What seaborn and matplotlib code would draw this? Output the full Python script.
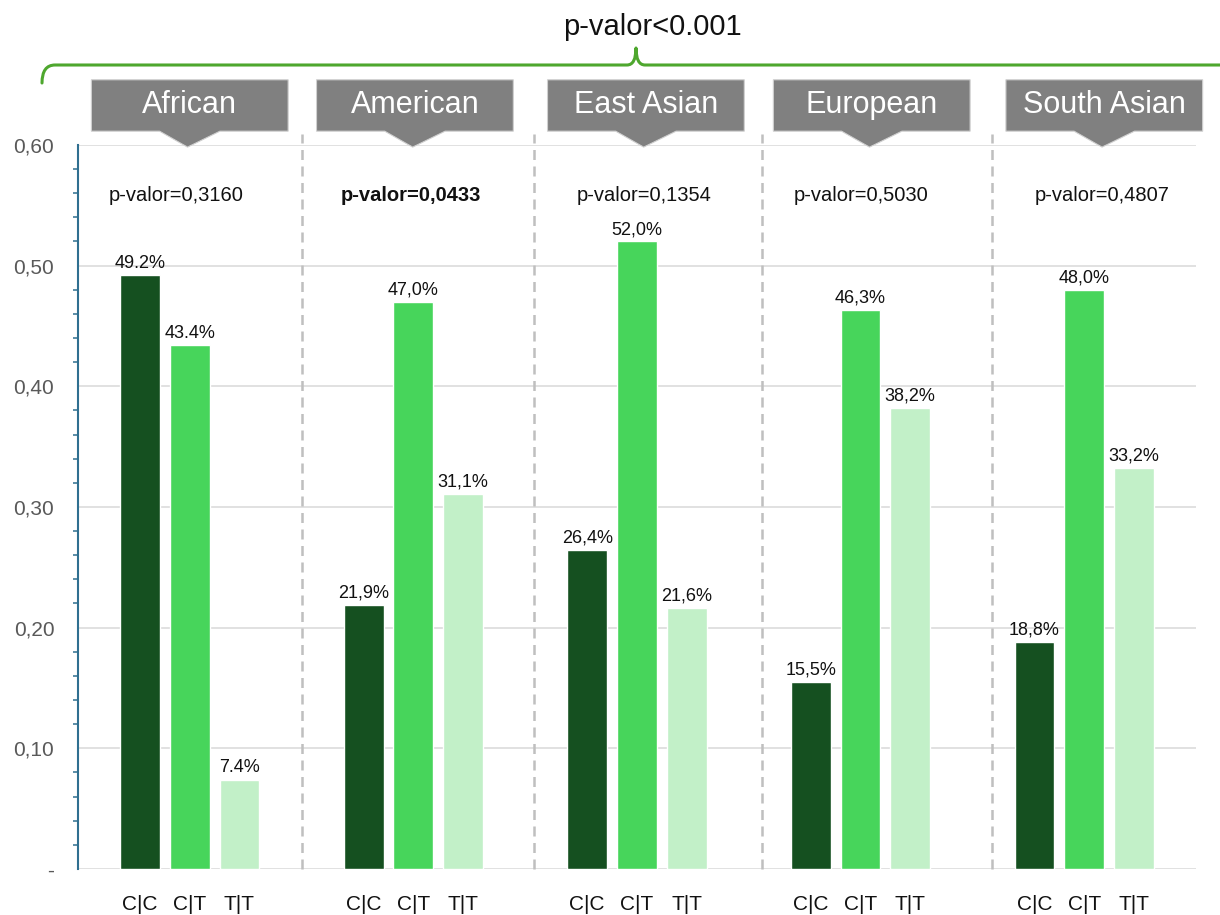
import numpy as np
import pandas as pd
import matplotlib
matplotlib.use("Agg")
import matplotlib.pyplot as plt
import matplotlib.transforms as mtransforms
from matplotlib.patches import Polygon, PathPatch
from matplotlib.path import Path
import seaborn as sns

# -----------------------------
# data
# -----------------------------
populations = ["African", "American", "East Asian", "European", "South Asian"]
genotypes = ["C|C", "C|T", "T|T"]
freq_cc = [0.492, 0.219, 0.264, 0.155, 0.188]
freq_ct = [0.434, 0.470, 0.520, 0.463, 0.480]
freq_tt = [0.074, 0.311, 0.216, 0.382, 0.332]
labels_cc = ["49.2%", "21,9%", "26,4%", "15,5%", "18,8%"]
labels_ct = ["43.4%", "47,0%", "52,0%", "46,3%", "48,0%"]
labels_tt = ["7.4%", "31,1%", "21,6%", "38,2%", "33,2%"]
p_values = ["p-valor=0,3160", "p-valor=0,0433", "p-valor=0,1354",
            "p-valor=0,5030", "p-valor=0,4807"]
p_bold = [False, True, False, False, False]
overall_p = "p-valor<0.001"
y_ticks = [0.0, 0.1, 0.2, 0.3, 0.4, 0.5, 0.6]
y_ticklabels = ["-", "0,10", "0,20", "0,30", "0,40", "0,50", "0,60"]

colors = {"C|C": "#155020", "C|T": "#47D55B", "T|T": "#C2F0C8"}

df = pd.DataFrame({
    "population": populations * 3,
    "genotype": [g for g in genotypes for _ in populations],
    "freq": freq_cc + freq_ct + freq_tt,
})

# -----------------------------
# plot
# -----------------------------
sns.set_style("white")
plt.rcParams["font.family"] = ["Liberation Sans", "DejaVu Sans"]

fig = plt.figure(figsize=(12.2, 9.15), dpi=100)
ax = fig.add_axes([0.0639, 0.0503, 0.9164, 0.7913])

sns.barplot(data=df, x="population", y="freq", hue="genotype",
            order=populations, hue_order=genotypes, palette=colors,
            width=0.667, gap=0.2, saturation=1, errorbar=None,
            legend=False, ax=ax)

for cont, labs in zip(ax.containers, [labels_cc, labels_ct, labels_tt]):
    ax.bar_label(cont, labels=labs, padding=2.5, fontsize=13, color="#111111")

ax.set_xlim(-0.5, 4.5)
ax.set_ylim(0, 0.6)
ax.set_xlabel("")
ax.set_ylabel("")

# genotype labels under each bar
centers = sorted(p.get_x() + p.get_width() / 2 for p in ax.patches)
ax.set_xticks(centers, labels=genotypes * len(populations))
ax.tick_params(axis="x", length=0, pad=19, labelsize=15, labelcolor="#111111")

# y axis
axis_col = "#2F6F90"
ax.set_yticks(y_ticks, labels=y_ticklabels)
ax.set_yticks(np.arange(0, 0.6, 0.02), minor=True)
ax.tick_params(axis="y", which="major", direction="inout", length=10,
               width=1.3, color=axis_col, pad=12, labelsize=15,
               labelcolor="#595959")
ax.tick_params(axis="y", which="minor", direction="out", length=3.6,
               width=1.1, color=axis_col, left=True)
ax.yaxis.grid(True, color="#D9D9D9", lw=1.1)
ax.set_axisbelow(True)
for s in ["top", "right", "bottom"]:
    ax.spines[s].set_visible(False)
ax.spines["left"].set_color(axis_col)
ax.spines["left"].set_linewidth(1.5)
ax.spines["left"].set_zorder(5)

trans = mtransforms.blended_transform_factory(ax.transData, ax.transAxes)

# dashed separators between populations
for sx in [0.5, 1.54, 2.56, 3.59]:
    ax.plot([sx, sx], [0, 1.015], transform=trans, ls=(0, (4, 2.6)),
            color="#BFBFBF", lw=1.8, clip_on=False, zorder=1)

# p-values per population
p_shift = [-0.06, -0.01, 0.03, 0.0, 0.08]
for i, (pv, bold, sh) in enumerate(zip(p_values, p_bold, p_shift)):
    ax.text(i + sh, 0.5585, pv, ha="center", va="center", fontsize=14.5,
            fontweight="bold" if bold else "normal", color="#111111")

# gray callouts with population names
box_shift = [0.0, 0.007, 0.04, 0.05, 0.09]
for i, (name, sh) in enumerate(zip(populations, box_shift)):
    c = i + sh
    pts = [(c - 0.44, 1.090), (c + 0.44, 1.090), (c + 0.44, 1.019),
           (c + 0.135, 1.019), (c - 0.01, 0.997), (c - 0.135, 1.019),
           (c - 0.44, 1.019)]
    ax.add_patch(Polygon(pts, closed=True, transform=trans, clip_on=False,
                         fc="#808080", ec="#D0D0D0", lw=0.8, zorder=6))
    ax.text(c, 1.0555, name, transform=trans, ha="center", va="center",
            color="white", fontsize=22, zorder=7)

# green bracket with overall p-value
W, H = 1220.0, 915.0
def fpt(px, py):
    return (px / W, 1 - py / H)

verts = [fpt(42, 83), fpt(42, 65), fpt(55, 65), fpt(627, 65),
         fpt(636, 65), fpt(636, 48), fpt(636, 65), fpt(645, 65),
         fpt(1225, 65)]
codes = [Path.MOVETO, Path.CURVE3, Path.CURVE3, Path.LINETO,
         Path.CURVE3, Path.CURVE3, Path.CURVE3, Path.CURVE3, Path.LINETO]
fig.patches.append(PathPatch(Path(verts, codes), transform=fig.transFigure,
                             fill=False, ec="#4EA72E", lw=2.2,
                             capstyle="round", joinstyle="round"))
fig.text(652 / W, 1 - 27 / H, overall_p, ha="center", va="center",
         fontsize=21, color="#111111")

plt.savefig("out.png", dpi=100)
plt.close()
